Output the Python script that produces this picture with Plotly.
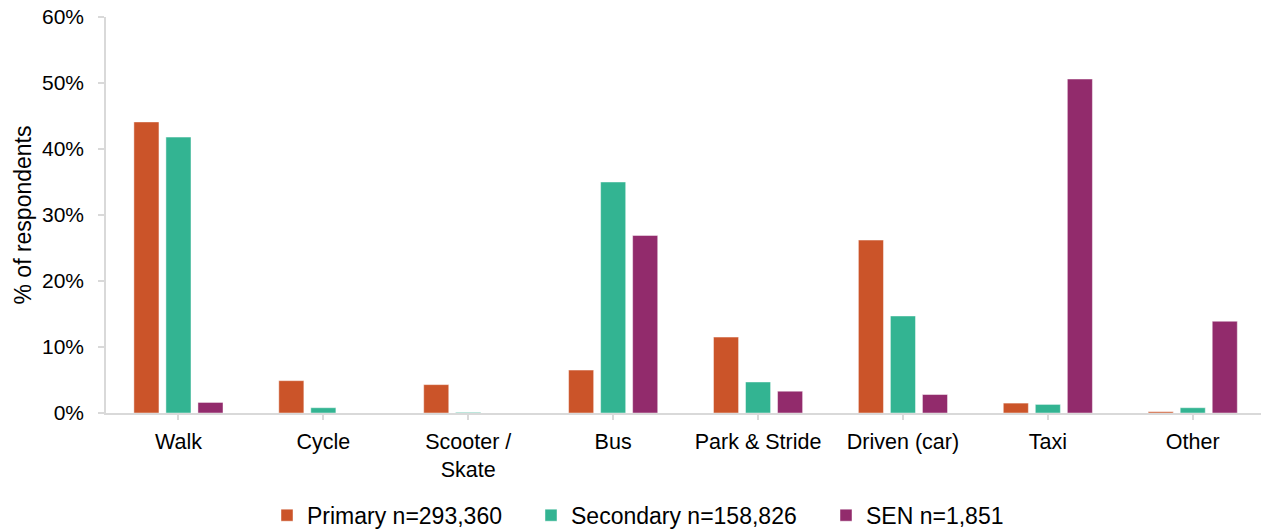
import plotly.graph_objects as go

# Travel mode categories
modes = ["Walk", "Cycle", "Scooter /<br>Skate", "Bus", "Park & Stride",
         "Driven (car)", "Taxi", "Other"]

# Share of respondents (%) by school type
primary = [44.1, 4.9, 4.3, 6.5, 11.5, 26.2, 1.5, 0.2]
secondary = [41.8, 0.8, 0.1, 35.0, 4.7, 14.7, 1.3, 0.8]
sen = [1.6, 0.0, 0.0, 26.9, 3.3, 2.8, 50.6, 13.9]

series_names = ["Primary n=293,360", "Secondary n=158,826", "SEN n=1,851"]
series_colors = ["#CB5429", "#33B492", "#922B6C"]

y_ticks = [0, 10, 20, 30, 40, 50, 60]
y_tick_text = [f"{v}%" for v in y_ticks]

FONT = "Liberation Sans, Arial, Helvetica, sans-serif"
W, H = 1261, 529

# Each series gets its own one-entry legend so the entries can be spaced freely
legend_ids = ["legend", "legend2", "legend3"]
legend_left_px = [267, 531, 826]

fig = go.Figure()
for name, vals, col, lid in zip(series_names, [primary, secondary, sen],
                                series_colors, legend_ids):
    fig.add_trace(go.Bar(
        x=list(range(len(modes))),
        y=vals,
        name=name,
        legend=lid,
        marker=dict(color=col, line=dict(color="rgba(255,255,255,0.45)", width=1)),
    ))

legend_style = dict(
    orientation="h",
    xref="container",
    yref="container",
    xanchor="left",
    y=0.026,
    yanchor="middle",
    font=dict(family=FONT, size=23, color="#000000"),
    itemwidth=30,
    bgcolor="rgba(0,0,0,0)",
)

fig.update_layout(
    width=W,
    height=H,
    paper_bgcolor="white",
    plot_bgcolor="white",
    margin=dict(l=106, r=0, t=17, b=116),
    barmode="group",
    bargap=0.337,
    bargroupgap=0.217,
    font=dict(family=FONT, size=21, color="#000000"),
    showlegend=True,
    legend=dict(x=legend_left_px[0] / W, **legend_style),
    legend2=dict(x=legend_left_px[1] / W, **legend_style),
    legend3=dict(x=legend_left_px[2] / W, **legend_style),
)

fig.update_xaxes(
    range=[-0.5, 7.471],
    tickmode="array",
    tickvals=list(range(len(modes))),
    ticktext=modes,
    showline=True,
    linecolor="#d9d9d9",
    linewidth=2,
    ticks="outside",
    ticklen=5,
    tickcolor="#d9d9d9",
    tickwidth=1.5,
    ticklabelstandoff=3,
    showgrid=False,
    zeroline=False,
    tickfont=dict(family=FONT, size=21.5, color="#000000"),
    fixedrange=True,
)

fig.update_yaxes(
    range=[0, 60],
    tickmode="array",
    tickvals=y_ticks,
    ticktext=y_tick_text,
    showline=True,
    linecolor="#d9d9d9",
    linewidth=1.5,
    ticks="outside",
    ticklen=6,
    tickcolor="#d9d9d9",
    tickwidth=1.5,
    ticklabelstandoff=10,
    showgrid=False,
    zeroline=False,
    tickfont=dict(family=FONT, size=21, color="#000000"),
    title=dict(text="% of respondents", font=dict(family=FONT, size=23, color="#000000"),
               standoff=4),
    automargin=False,
    fixedrange=True,
)

fig.write_html("out.html")
